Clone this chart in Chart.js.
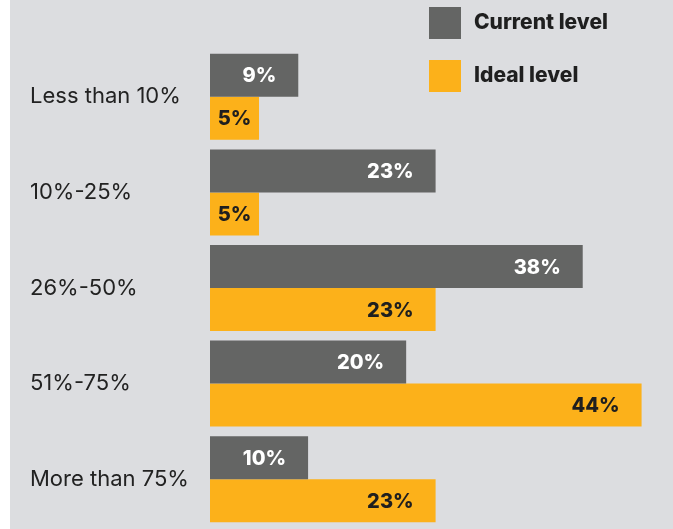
<!DOCTYPE html>
<html>
<head>
<meta charset="utf-8">
<script src="https://cdn.jsdelivr.net/npm/chart.js@4"></script>
<style>
  body { margin: 0; background: #fff; }
  #chart-container { width: 673px; height: 529px; }
</style>
</head>
<body>
<div id="chart-container"><canvas id="myChart"></canvas></div>
<script>
const categories = ["Less than 10%", "10%-25%", "26%-50%", "51%-75%", "More than 75%"];
const currentLevel = [9, 23, 38, 20, 10];
const idealLevel = [5, 5, 23, 44, 23];
const seriesNames = ["Current level", "Ideal level"];

const grey = "#646564";
const orange = "#fcb11a";
const ink = "#1f1f1f";

// grey panel behind everything, with a thin white strip on the left
const panelBg = {
    id: "panelBg",
    beforeDraw: (chart) => {
        const ctx = chart.ctx;
        ctx.save();
        ctx.fillStyle = "#dcdde0";
        ctx.fillRect(10, 0, chart.width - 10, chart.height);
        ctx.restore();
    },
};

// percentage labels inside the end of each bar
const barLabels = {
    id: "barLabels",
    afterDatasetsDraw: (chart) => {
        const ctx = chart.ctx;
        ctx.save();
        ctx.font = "800 20px Inter";
        ctx.textAlign = "right";
        ctx.textBaseline = "middle";
        chart.data.datasets.forEach((ds, i) => {
            chart.getDatasetMeta(i).data.forEach((bar, j) => {
                let txt = ds.data[j] + "%";
                let w = ctx.measureText(txt).width;
                let right = bar.x - 22;
                if (bar.x - bar.base < 60) {
                    right = (bar.x + bar.base) / 2 + w / 2;
                }
                ctx.fillStyle = i == 0 ? "#ffffff" : ink;
                ctx.fillText(txt, right, bar.y + 1);
            });
        });
        ctx.restore();
    },
};

// legend in the top right corner
const cornerLegend = {
    id: "cornerLegend",
    afterDraw: (chart) => {
        const ctx = chart.ctx;
        ctx.save();
        ctx.font = "800 21px Inter";
        ctx.textBaseline = "middle";
        chart.data.datasets.forEach((ds, i) => {
            let y = 7 + i * 53;
            ctx.fillStyle = ds.backgroundColor;
            ctx.fillRect(429, y, 32, 32);
            ctx.fillStyle = ink;
            ctx.fillText(ds.label, 474, y + 16);
        });
        ctx.restore();
    },
};

const data = {
    labels: categories,
    datasets: [
        { label: seriesNames[0], backgroundColor: grey, data: currentLevel },
        { label: seriesNames[1], backgroundColor: orange, data: idealLevel },
    ],
};

const config = {
    type: "bar",
    data: data,
    options: {
        indexAxis: "y",
        responsive: false,
        animation: false,
        layout: { padding: { left: 30, top: 49, bottom: 2, right: 2 } },
        datasets: { bar: { categoryPercentage: 0.9, barPercentage: 1 } },
        plugins: { legend: { display: false }, tooltip: { enabled: false } },
        scales: {
            x: { display: false, min: 0, max: 47 },
            y: {
                grid: { display: false },
                border: { display: false },
                afterFit: (axis) => {
                    axis.width = 180;
                    axis.paddingTop = 0;
                    axis.paddingBottom = 0;
                },
                ticks: {
                    crossAlign: "far",
                    padding: 0,
                    color: "#222222",
                    font: { family: "Inter", size: 22 },
                },
            },
        },
    },
    plugins: [panelBg, barLabels, cornerLegend],
};

const canva = document.getElementById("myChart");
canva.width = 673;
canva.height = 529;
const myChart = new Chart(canva, config);
</script>
</body>
</html>
